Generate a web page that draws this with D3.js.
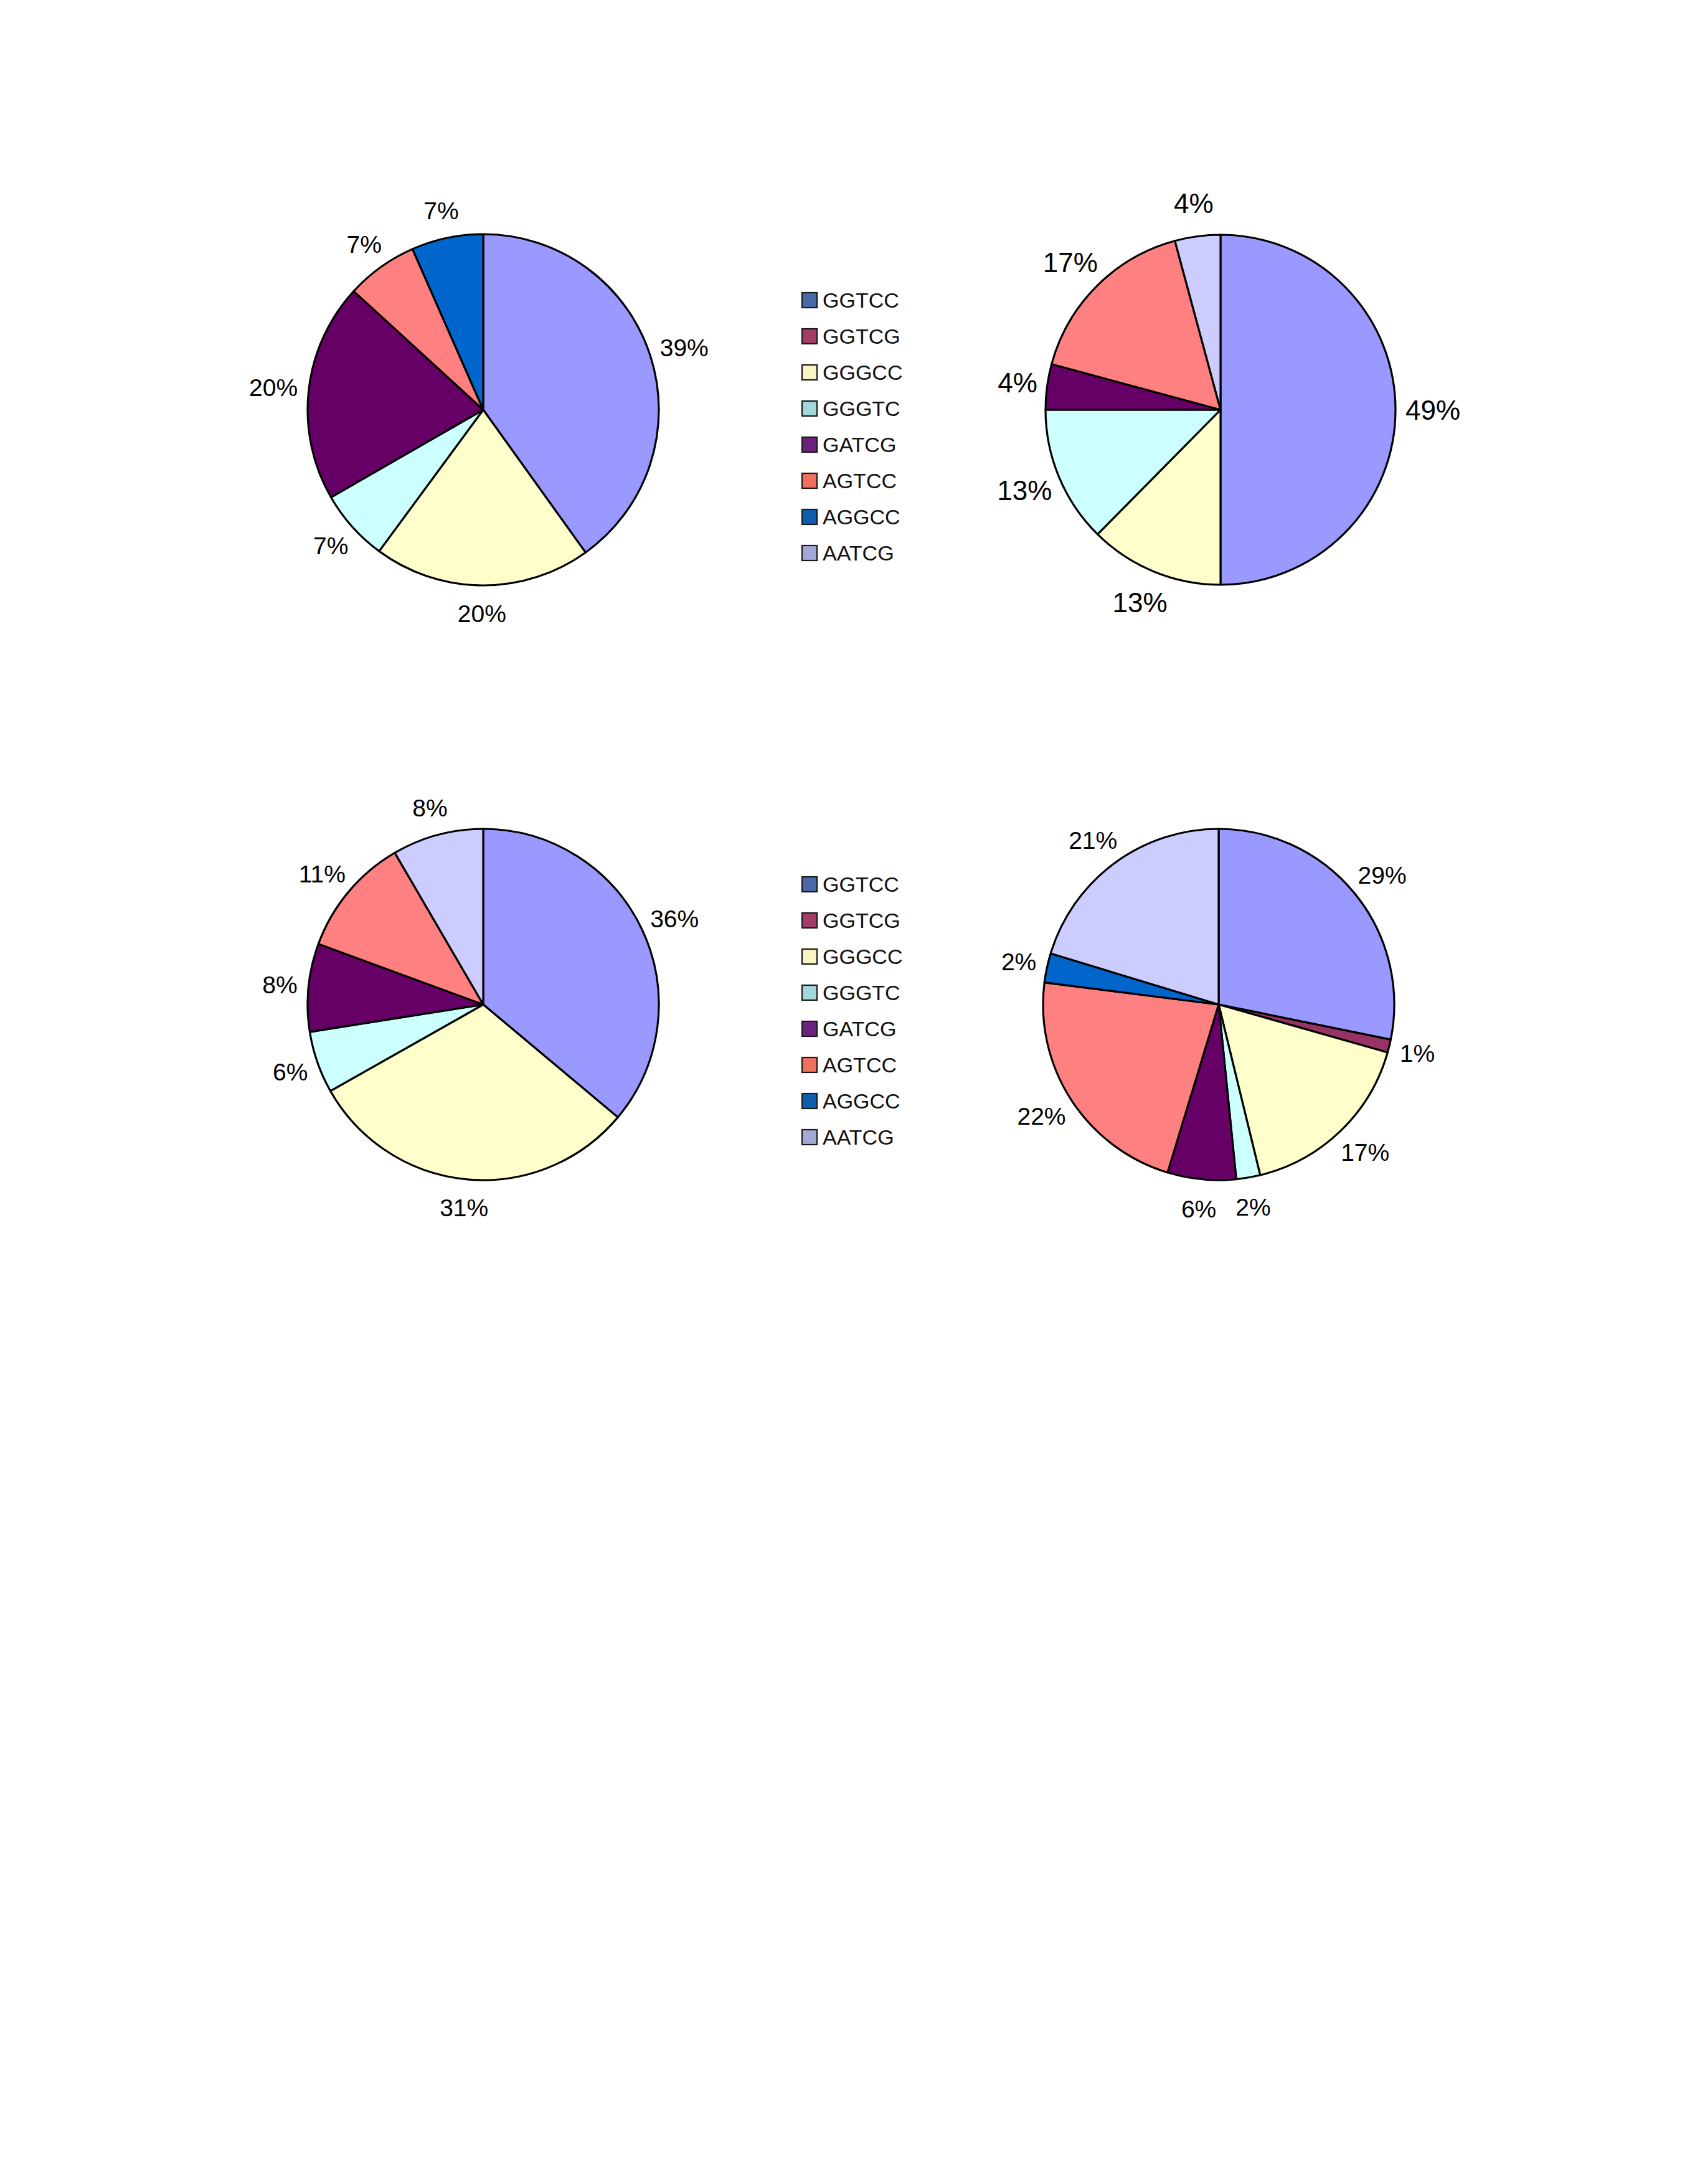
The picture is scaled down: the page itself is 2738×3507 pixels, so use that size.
<!DOCTYPE html>
<html>
<head>
<meta charset="utf-8">
<script src="https://cdn.jsdelivr.net/npm/d3@7"></script>
<style>
  html, body { margin: 0; padding: 0; background: #ffffff; }
  svg { display: block; }
  text { font-family: "Liberation Sans", Arial, sans-serif; fill: #000; }
</style>
</head>
<body>
<script>
// ---- data ----
const categories = ["GGTCC", "GGTCG", "GGGCC", "GGGTC", "GATCG", "AGTCC", "AGGCC", "AATCG"];
const sliceColors = ["#9999FF", "#993366", "#FFFFCC", "#CCFFFF", "#660066", "#FF8080", "#0066CC", "#CCCCFF"];
const legendColors = ["#4a6aaa", "#a33d68", "#f8f5c2", "#a4d7dc", "#6e2280", "#f0705c", "#0d5fae", "#a3a9d6"];

// slice shares, and the printed percentage labels
const pieA = [40.1, 0, 20.0, 6.6, 20.1, 6.6, 6.6, 0];
const labelsA = [39, null, 20, 7, 20, 7, 7, null];
const pieB = [50.0, 0, 12.4, 12.6, 4.2, 16.6, 0, 4.2];
const labelsB = [49, null, 13, 13, 4, 17, null, 4];
const pieC = [36.1, 0, 30.7, 5.7, 8.1, 11.0, 0, 8.4];
const labelsC = [36, null, 31, 6, 8, 11, null, 8];
const pieD = [28.2, 1.2, 16.8, 2.2, 6.3, 22.3, 2.7, 20.3];
const labelsD = [29, 1, 17, 2, 6, 22, 2, 21];

// ---- layout ----
const W = 2738, H = 3507;
const svg = d3.select("body").append("svg").attr("width", W).attr("height", H);
svg.append("rect").attr("width", W).attr("height", H).attr("fill", "#fff");

const color = d3.scaleOrdinal().domain(categories).range(sliceColors);
const legendColor = d3.scaleOrdinal().domain(categories).range(legendColors);

const pies = [
  { values: pieA, labels: labelsA, cx: 776, cy: 658, r: 282, font: 39, gap: 18, hf: 1.4 },
  { values: pieB, labels: labelsB, cx: 1960, cy: 658, r: 281, font: 44, gap: 16, hf: 1.7 },
  { values: pieC, labels: labelsC, cx: 776, cy: 1613, r: 282, font: 39, gap: 18, hf: 1.4 },
  { values: pieD, labels: labelsD, cx: 1957, cy: 1613, r: 282, font: 39, gap: 18, hf: 1.5 }
];

const pieGen = d3.pie().sort(null).value(d => d.v);

pies.forEach(p => {
  const data = categories.map((c, i) => ({ c, v: p.values[i], label: p.labels[i] }));
  const arcs = pieGen(data).filter(a => a.data.v > 0);
  const arc = d3.arc().innerRadius(0).outerRadius(p.r);
  const g = svg.append("g").attr("transform", `translate(${p.cx},${p.cy})`);
  g.selectAll("path").data(arcs).join("path")
    .attr("d", arc)
    .attr("fill", d => color(d.data.c))
    .attr("stroke", "#000")
    .attr("stroke-width", 3.2)
    .attr("stroke-linejoin", "round");

  const lbl = g.selectAll("text.lbl").data(arcs.filter(a => a.data.label != null)).join("text")
    .attr("class", "lbl")
    .attr("font-size", p.font)
    .attr("text-anchor", "middle")
    .text(d => d.data.label + "%");
  lbl.each(function(d) {
    const w = this.getBBox().width;
    const cap = p.font * 0.72;
    const hb = p.font * p.hf;
    const a = (d.startAngle + d.endAngle) / 2;
    const dx = Math.sin(a), dy = -Math.cos(a);
    const cx = dx * (p.r + p.gap) + dx * w / 2;
    const cy = dy * (p.r + p.gap) + dy * hb / 2;
    d3.select(this).attr("x", cx).attr("y", cy + cap / 2);
  });
});

// ---- legends ----
const legends = [{ x: 1288, y: 482 }, { x: 1288, y: 1420 }];
const step = 58, box = 24;
legends.forEach(L => {
  const g = svg.append("g").attr("transform", `translate(${L.x},${L.y})`);
  const item = g.selectAll("g").data(categories).join("g")
    .attr("transform", (d, i) => `translate(0,${i * step})`);
  item.append("rect")
    .attr("x", 0).attr("y", -box / 2)
    .attr("width", box).attr("height", box)
    .attr("fill", d => legendColor(d))
    .attr("stroke", "#1a1a1a").attr("stroke-width", 2.2);
  item.append("text")
    .attr("x", 33).attr("y", 12)
    .attr("font-size", 34)
    .style("fill", "#111")
    .text(d => d);
});
</script>
</body>
</html>
